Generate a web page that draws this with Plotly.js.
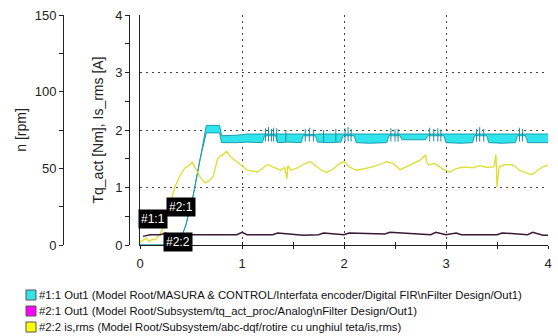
<!DOCTYPE html>
<html>
<head>
<meta charset="utf-8">
<script src="https://cdn.plot.ly/plotly-3.0.1.min.js"></script>
<style>html,body{margin:0;padding:0;background:#fff;}#chart{width:558px;height:336px;}</style>
</head>
<body>
<div id="chart"></div>
<script>
// ---- data ----
// #1:1 encoder speed output: upper / lower envelope of the fast-toggling signal
const cyanX  = [0, 0.38, 0.45, 0.52, 0.59, 0.65, 0.78, 0.80, 0.95, 1.05, 1.20, 1.22, 1.33, 1.35, 1.45, 1.58, 1.60, 1.72, 1.74, 1.85, 1.97, 1.99, 2.10, 2.12, 2.25, 2.42, 2.44, 2.55, 2.57, 2.70, 2.80, 2.82, 2.98, 3.00, 3.15, 3.26, 3.28, 3.40, 3.42, 3.55, 3.68, 3.70, 3.78, 3.80, 3.90, 4.00];
const cyanHi = [0, 0,    0.35, 0.85, 1.50, 2.08, 2.08, 1.90, 1.91, 1.93, 1.93, 1.93, 1.93, 1.94, 1.94, 1.93, 1.93, 1.92, 1.93, 1.93, 1.92, 1.93, 1.93, 1.93, 1.92, 1.93, 1.93, 1.93, 1.93, 1.92, 1.93, 1.93, 1.93, 1.93, 1.92, 1.93, 1.93, 1.93, 1.93, 1.92, 1.93, 1.93, 1.93, 1.93, 1.92, 1.93];
const cyanLo = [0, 0,    0.35, 0.85, 1.50, 1.95, 1.95, 1.78, 1.78, 1.79, 1.78, 1.90, 1.90, 1.78, 1.79, 1.78, 1.90, 1.90, 1.79, 1.78, 1.79, 1.90, 1.90, 1.78, 1.77, 1.78, 1.90, 1.90, 1.83, 1.83, 1.83, 1.90, 1.90, 1.78, 1.77, 1.78, 1.90, 1.90, 1.78, 1.77, 1.78, 1.90, 1.90, 1.78, 1.78, 1.78];
// short upward glitches of the #1:1 signal
const spikeX   = [1.23, 1.26, 1.29, 1.31, 1.34, 1.43, 1.62, 1.66, 1.70, 1.80, 1.92, 2.01, 2.04, 2.07, 2.46, 2.50, 2.53, 2.84, 2.88, 2.92, 2.95, 3.30, 3.33, 3.37, 3.72, 3.75];
const spikeTop = [2.03, 2.05, 2.02, 2.04, 2.03, 2.00, 2.02, 2.04, 2.01, 2.00, 2.02, 2.03, 2.05, 2.02, 2.03, 2.01, 2.02, 2.04, 2.02, 2.03, 2.01, 2.02, 2.05, 2.02, 2.04, 2.02];
const spikeBase = 1.80;

// #2:1 tq_act (filtered)
const tqX = [0.03, 0.10, 0.20, 0.25, 0.30, 0.50, 0.70, 0.95, 1.00, 1.05, 1.30, 1.35, 1.60, 1.75, 1.80, 2.00, 2.05, 2.40, 2.45, 2.85, 2.90, 3.00, 3.10, 3.15, 3.50, 3.55, 3.80, 3.85, 3.95, 4.00];
const tqY = [0.15, 0.18, 0.18, 0.21, 0.18, 0.18, 0.18, 0.18, 0.22, 0.18, 0.18, 0.21, 0.17, 0.18, 0.21, 0.18, 0.21, 0.19, 0.22, 0.18, 0.22, 0.18, 0.21, 0.18, 0.18, 0.21, 0.18, 0.22, 0.17, 0.17];

// #2:2 is,rms
const isX = [0, 0.03, 0.06, 0.09, 0.12, 0.15, 0.18, 0.20, 0.24, 0.28, 0.31, 0.34, 0.39, 0.44, 0.48, 0.51, 0.53, 0.56, 0.60, 0.64, 0.68, 0.72, 0.74, 0.76, 0.79, 0.82, 0.85, 0.88, 0.91, 0.95, 1.00, 1.05, 1.10, 1.15, 1.20, 1.25, 1.30, 1.34, 1.38, 1.42, 1.44, 1.45, 1.48, 1.54, 1.60, 1.67, 1.72, 1.78, 1.83, 1.90, 1.96, 2.00, 2.05, 2.12, 2.20, 2.28, 2.35, 2.42, 2.48, 2.55, 2.61, 2.68, 2.75, 2.80, 2.81, 2.83, 2.88, 2.91, 2.97, 3.04, 3.10, 3.18, 3.26, 3.33, 3.40, 3.47, 3.49, 3.50, 3.52, 3.58, 3.66, 3.72, 3.78, 3.84, 3.90, 3.95, 4.00];
const isY = [0.05, 0.08, 0.12, 0.06, 0.10, 0.09, 0.15, 0.20, 0.35, 0.60, 0.80, 1.00, 1.20, 1.34, 1.38, 1.44, 1.38, 1.27, 1.15, 1.08, 1.12, 1.20, 1.35, 1.50, 1.55, 1.58, 1.63, 1.55, 1.50, 1.45, 1.38, 1.30, 1.28, 1.27, 1.33, 1.40, 1.36, 1.33, 1.30, 1.35, 1.15, 1.38, 1.30, 1.34, 1.40, 1.45, 1.38, 1.30, 1.26, 1.33, 1.42, 1.45, 1.36, 1.30, 1.33, 1.36, 1.40, 1.45, 1.42, 1.31, 1.36, 1.42, 1.48, 1.57, 1.45, 1.39, 1.42, 1.39, 1.32, 1.27, 1.33, 1.36, 1.34, 1.38, 1.35, 1.36, 1.57, 1.00, 1.36, 1.40, 1.39, 1.30, 1.26, 1.22, 1.30, 1.36, 1.39];

// legend entries
const legendNames  = [
  "#1:1 Out1 (Model Root/MASURA & CONTROL/Interfata encoder/Digital FIR\\nFilter Design/Out1)",
  "#2:1 Out1 (Model Root/Subsystem/tq_act_proc/Analog\\nFilter Design/Out1)",
  "#2:2 is,rms (Model Root/Subsystem/abc-dqf/rotire cu unghiul teta/is,rms)"
];
const legendColors = ["#33e3ea", "#ff00ff", "#ffff00"];

// cursor tags
const tagText = ["#1:1", "#2:1", "#2:2"];
const tagX = [0.13, 0.40, 0.37];
const tagY = [0.45, 0.66, 0.05];

// ---- figure ----
const W = 558, H = 336, ML = 0, MR = 10, MT = 15, MB = 91;
const PW = W - ML - MR, PH = H - MT - MB;
const px = v => (v - ML) / PW;          // pixel -> paper x
const py = v => (H - MB - v) / PH;      // pixel -> paper y

const spX = [], spY = [];
spikeX.forEach((x, i) => { spX.push(x, x, null); spY.push(spikeBase, spikeTop[i], null); });

const font = "Liberation Sans, Arial, sans-serif";
// placeholder traces (no visible points) so that the extra axes get drawn
const holder = (xa, ya) => ({x: [0], y: [null], xaxis: xa, yaxis: ya, mode: "lines", hoverinfo: "skip", showlegend: false});
const traces = [
  holder("x", "y2"), holder("x", "y3"), holder("x2", "y"),
  {x: cyanX, y: cyanLo, mode: "lines", line: {color: "#1a9fb0", width: 1}, hoverinfo: "skip"},
  {x: cyanX, y: cyanHi, mode: "lines", fill: "tonexty", fillcolor: "#30e4ec", line: {color: "#1a9fb0", width: 1}, name: legendNames[0]},
  {x: spX, y: spY, mode: "lines", line: {color: "#1a8f9f", width: 1}, hoverinfo: "skip"},
  {x: isX, y: isY, mode: "lines", line: {color: "#dede2a", width: 1.3}, name: legendNames[2]},
  {x: tqX, y: tqY, mode: "lines", line: {color: "#3a1838", width: 1.5}, name: legendNames[1]}
];

const annotations = [], shapes = [];
legendNames.forEach((t, i) => {
  const yc = 295 + i * 16;
  shapes.push({type: "rect", xref: "paper", yref: "paper", x0: px(26), x1: px(36), y0: py(yc + 5), y1: py(yc - 5),
    fillcolor: legendColors[i], line: {color: "#555", width: 1}});
  annotations.push({xref: "paper", yref: "paper", x: px(37), y: py(yc), xanchor: "left", yanchor: "middle",
    text: t, showarrow: false, font: {family: font, size: 11.3, color: "#111"}});
});
tagText.forEach((t, i) => {
  annotations.push({x: tagX[i], y: tagY[i], xref: "x", yref: "y", text: t, showarrow: false,
    bgcolor: "#000", borderpad: 2, font: {family: font, size: 12, color: "#fff"}});
});

const axLine = "#222";
const grid = {showgrid: true, gridcolor: "#444", griddash: "2px,4px", gridwidth: 1};
const layout = {
  width: W, height: H, margin: {l: ML, r: MR, t: MT, b: MB},
  paper_bgcolor: "#fff", plot_bgcolor: "#fff", showlegend: false,
  font: {family: font, size: 13, color: "#222"},
  xaxis: Object.assign({domain: [px(140), 1], range: [0, 4], tick0: 0, dtick: 1, ticks: "inside", ticklen: 3, tickcolor: axLine,
    minor: {dtick: 0.5, ticks: "inside", ticklen: 3, tickcolor: axLine, showgrid: false},
    showline: true, linecolor: axLine, linewidth: 1, zeroline: false,
    ticklabelstandoff: 6, tickfont: {family: font, size: 13, color: "#222"}}, grid),
  xaxis2: {overlaying: "x", anchor: "y", range: [0, 4], tick0: 0, dtick: 1, ticks: "outside", ticklen: 3, tickcolor: axLine,
    minor: {dtick: 0.5, ticks: "outside", ticklen: 3, tickcolor: axLine, showgrid: false},
    showticklabels: false, showgrid: false, showline: false, zeroline: false},
  // frame line at the left edge of the plot + horizontal grid
  yaxis: Object.assign({range: [0, 4], anchor: "x", tick0: 0, dtick: 1, ticks: "", showticklabels: false,
    showline: true, linecolor: axLine, zeroline: false}, grid),
  // torque / current axis
  yaxis2: {overlaying: "y", anchor: "free", position: px(129), side: "left", range: [0, 4], tick0: 0, dtick: 1,
    ticks: "outside", ticklen: 4, tickcolor: axLine,
    minor: {dtick: 0.5, ticks: "outside", ticklen: 4, tickcolor: axLine, showgrid: false},
    showline: true, linecolor: axLine, zeroline: false, showgrid: false,
    tickfont: {family: font, size: 13, color: "#222"},
    title: {text: "Tq_act [Nm], Is_rms [A]", font: {family: font, size: 14, color: "#222"}, standoff: 7}},
  // speed axis
  yaxis3: {overlaying: "y", anchor: "free", position: px(63), side: "left", range: [0, 150], tick0: 0, dtick: 50,
    ticks: "outside", ticklen: 4, tickcolor: axLine,
    minor: {dtick: 25, ticks: "outside", ticklen: 4, tickcolor: axLine, showgrid: false},
    showline: true, linecolor: axLine, zeroline: false, showgrid: false,
    tickfont: {family: font, size: 13, color: "#222"},
    title: {text: "n [rpm]", font: {family: font, size: 14, color: "#222"}, standoff: 3}},
  annotations: annotations, shapes: shapes
};

Plotly.newPlot("chart", traces, layout, {staticPlot: true, displayModeBar: false});
</script>
</body>
</html>
